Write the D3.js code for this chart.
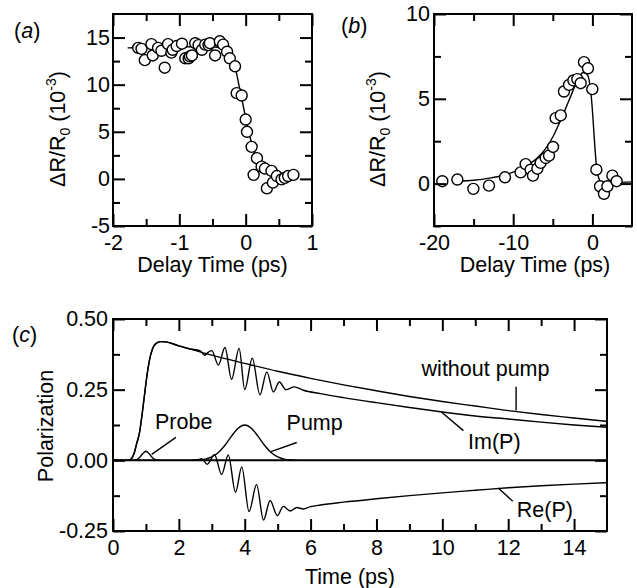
<!doctype html>
<html>
  <head>
    <meta charset="utf-8">
    <script src="https://d3js.org/d3.v7.min.js"></script>
    <style>
      body { margin: 0; background: #fff; }
      text { font-family: "Liberation Sans", Arial, sans-serif; fill: #000; }
      .axis path { stroke-width: 0; }
      .axis line { stroke: #000; stroke-width: 2; }
    </style>
  </head>
  <body>
    <script>
    // ---- panel (a) ----
    var aDotX = [-1.62, -1.57, -1.52, -1.42, -1.40, -1.32, -1.27, -1.22, -1.17, -1.12, -1.10, -1.04,
                 -0.96, -0.91, -0.86, -0.84, -0.81, -0.76, -0.71, -0.66, -0.61, -0.56, -0.54, -0.46,
                 -0.39, -0.34, -0.28, -0.24, -0.16, -0.135, -0.06, 0.0, 0.02, 0.09, 0.17, 0.12,
                 0.24, 0.29, 0.32, 0.39, 0.41, 0.47, 0.54, 0.59, 0.64, 0.72];
    var aDotY = [13.9, 13.8, 12.6, 14.3, 13.1, 13.9, 13.6, 11.8, 14.3, 13.4, 13.7, 14.1,
                 14.35, 12.8, 12.8, 13.0, 13.1, 14.4, 14.2, 13.7, 14.25, 14.2, 14.4, 13.1,
                 14.6, 14.25, 13.5, 12.8, 11.95, 9.1, 8.85, 6.3, 5.0, 3.4, 2.2, 0.43,
                 1.3, 1.1, -1.0, 0.85, -0.4, 0.3, -0.05, 0.1, 0.3, 0.43];
    var aFitX = [-1.78, -1.5, -1.0, -0.6, -0.4, -0.3, -0.2, -0.15, -0.1, -0.05, 0, 0.05, 0.1, 0.15, 0.2, 0.3, 0.4, 0.55, 0.8];
    var aFitY = [13.9, 13.95, 14.0, 14.05, 13.95, 13.6, 12.6, 11.6, 9.9, 8.2, 6.5, 4.9, 3.5, 2.5, 1.8, 0.95, 0.5, 0.25, 0.15];
    var aXMajor = [-2, -1, 0, 1];
    var aXMinor = [-1.5, -0.5, 0.5];
    var aYMajor = [-5, 0, 5, 10, 15];
    var aYMinor = [-2.5, 2.5, 7.5, 12.5];

    // ---- panel (b) ----
    var bDotX = [-18.95, -17.05, -15.03, -13.06, -11.04, -9.06, -8.43, -7.8, -7.5, -6.95, -6.53, -5.9,
                 -5.48, -4.97, -4.64, -4.0, -3.59, -2.95, -2.4, -1.9, -1.48, -1.06, -0.56, -0.01,
                 0.5, 0.96, 1.46, 1.89, 2.52, 3.06];
    var bDotY = [0.14, 0.24, -0.31, -0.12, 0.37, 0.66, 1.15, 0.82, 0.47, 0.88, 1.22, 1.51,
                 1.65, 2.16, 3.86, 4.02, 5.43, 5.82, 6.08, 6.16, 5.92, 7.16, 6.8, 5.57,
                 0.82, -0.16, -0.6, -0.16, 0.47, 0.14];
    var bFitX = [-17, -15, -13, -11, -9, -8, -7, -6, -5, -4, -3, -2, -1.2, -0.6, -0.2, 0.55, 1.0, 1.5, 3, 5];
    var bFitY = [0.15, 0.2, 0.32, 0.52, 0.88, 1.15, 1.5, 2.0, 2.75, 3.75, 4.85, 5.95, 6.55, 6.4, 5.4, 0.9, 0.1, -0.1, 0.05, 0.1];
    var bXMajor = [-20, -10, 0];
    var bXMinor = [-15, -5];
    var bYMajor = [0, 5, 10];
    var bYMinor = [-2.5, 2.5, 7.5];

    // ---- panel (c) ----
    var riseT = [0, 0.45, 0.55, 0.65, 0.72, 0.8, 0.87, 0.95, 1.02, 1.1, 1.2, 1.3, 1.45, 1.6, 2.0, 2.34];
    var riseV = [0, 0, 0.005, 0.028, 0.06, 0.095, 0.15, 0.225, 0.29, 0.35, 0.395, 0.413, 0.42, 0.419, 0.405, 0.394];
    var noPumpT = [3, 4, 5, 6, 7, 8, 9, 10, 11, 12, 13, 14, 15];
    var noPumpV = [0.372, 0.343, 0.315, 0.290, 0.267, 0.246, 0.226, 0.208, 0.192, 0.176, 0.162, 0.150, 0.138];
    var imT = [2.64, 2.79, 2.9, 3.0, 3.2, 3.4, 3.6, 3.83, 4.0, 4.23, 4.46, 4.67, 4.87, 5.05, 5.25, 5.5,
               5.78, 6.3, 7, 8, 9, 10, 11, 12, 13, 14, 15];
    var imV = [0.388, 0.372, 0.383, 0.388, 0.337, 0.399, 0.287, 0.396, 0.25, 0.361, 0.232, 0.313, 0.242, 0.277, 0.25, 0.26,
               0.248, 0.236, 0.222, 0.204, 0.187, 0.171, 0.157, 0.146, 0.135, 0.125, 0.117];
    var reT = [0, 2.4, 2.55, 2.69, 2.86, 3.08, 3.3, 3.5, 3.72, 3.91, 4.13, 4.36, 4.57, 4.77, 4.99, 5.17,
               5.38, 5.58, 5.78, 6.0, 6.3, 7, 8, 9, 10, 11, 12, 13, 14, 15];
    var reV = [0, 0, 0.001, 0.006, -0.014, 0.02, -0.05, 0.019, -0.113, -0.023, -0.181, -0.086, -0.211, -0.142, -0.196, -0.163,
               -0.179, -0.167, -0.172, -0.164, -0.158, -0.148, -0.136, -0.125, -0.115, -0.106, -0.097, -0.090, -0.084, -0.079];
    var probeT = [0.6, 0.7, 0.8, 0.9, 1.0, 1.1, 1.2, 1.3, 1.4];
    var probeV = [0, 0.0015, 0.009, 0.023, 0.032, 0.023, 0.009, 0.0015, 0];
    var pumpT = [2.4, 2.6, 2.8, 3.0, 3.2, 3.4, 3.6, 3.8, 4.0, 4.2, 4.4, 4.6, 4.8, 5.0, 5.2, 5.4, 5.6];
    var pumpV = [0, 0.0012, 0.0042, 0.0118, 0.0276, 0.0534, 0.0857, 0.1137, 0.125, 0.1137, 0.0857, 0.0534, 0.0276, 0.0118, 0.0042, 0.0012, 0];
    var cXMajor = [0, 2, 4, 6, 8, 10, 12, 14];
    var cXMinor = [1, 3, 5, 7, 9, 11, 13];
    var cYMajor = [-0.25, 0, 0.25, 0.5];
    var cYMinor = [-0.125, 0.125, 0.375];

    // labels with leader lines, in data units: [text, textT, textV, t1, v1, t2, v2]
    var cNotes = [
      ['Probe', 1.276, 0.111, 1.175, 0.021, 1.91, 0.081],
      ['Pump', 5.27, 0.107, 4.80, 0.031, 5.58, 0.063],
      ['without pump', 9.37, 0.30, 12.24, 0.176, 12.24, 0.26],
      ['Im(P)', 10.78, 0.039, 9.98, 0.170, 10.64, 0.105],
      ['Re(P)', 12.26, -0.199, 11.7, -0.0975, 12.14, -0.145]
    ];

    function zip(xs, ys) {
      return xs.map(function(d, i) { return [d, ys[i]]; });
    }

    var svg = d3.select('body')
              .append('svg')
              .attr('width', 637)
              .attr('height', 588);

    var FS = '21.5px';

    // frame with inward ticks on all four sides
    function drawFrame(x, y, xMajor, xMinor, yMajor, yMinor, xFmt, yFmt, lPad, bPad) {
      var x0 = x.range()[0], x1 = x.range()[1];
      var y0 = y.range()[0], y1 = y.range()[1];
      var g = svg.append('g');

      g.append('g').attr('class', 'axis')
        .attr('transform', 'translate(0,' + y0 + ')')
        .call(d3.axisBottom(x).tickValues(xMajor).tickSize(-12).tickPadding(bPad).tickFormat(xFmt))
        .selectAll('text').style('font-size', FS).attr('font-family', null);
      g.append('g').attr('class', 'axis')
        .attr('transform', 'translate(0,' + y0 + ')')
        .call(d3.axisBottom(x).tickValues(xMinor).tickSize(-7).tickFormat(''));
      g.append('g').attr('class', 'axis')
        .attr('transform', 'translate(0,' + y1 + ')')
        .call(d3.axisTop(x).tickValues(xMajor).tickSize(-12).tickFormat(''));
      g.append('g').attr('class', 'axis')
        .attr('transform', 'translate(0,' + y1 + ')')
        .call(d3.axisTop(x).tickValues(xMinor).tickSize(-7).tickFormat(''));

      g.append('g').attr('class', 'axis')
        .attr('transform', 'translate(' + x0 + ',0)')
        .call(d3.axisLeft(y).tickValues(yMajor).tickSize(-12).tickPadding(lPad).tickFormat(yFmt))
        .selectAll('text').style('font-size', FS).attr('font-family', null);
      g.append('g').attr('class', 'axis')
        .attr('transform', 'translate(' + x0 + ',0)')
        .call(d3.axisLeft(y).tickValues(yMinor).tickSize(-7).tickFormat(''));
      g.append('g').attr('class', 'axis')
        .attr('transform', 'translate(' + x1 + ',0)')
        .call(d3.axisRight(y).tickValues(yMajor).tickSize(-12).tickFormat(''));
      g.append('g').attr('class', 'axis')
        .attr('transform', 'translate(' + x1 + ',0)')
        .call(d3.axisRight(y).tickValues(yMinor).tickSize(-7).tickFormat(''));

      g.append('rect')
        .attr('x', x0).attr('y', y1)
        .attr('width', x1 - x0).attr('height', y0 - y1)
        .attr('fill', 'none').attr('stroke', '#000').attr('stroke-width', 2);
    }

    function plain(d) { return String(d); }

    function panelLabel(px, py, letter) {
      var t = svg.append('text').attr('x', px).attr('y', py).style('font-size', FS);
      t.append('tspan').text('(');
      t.append('tspan').attr('font-style', 'italic').text(letter);
      t.append('tspan').text(')');
    }

    function drLabel(px, py) {
      var t = svg.append('text')
        .attr('transform', 'translate(' + px + ',' + py + ') rotate(-90)')
        .attr('text-anchor', 'middle')
        .style('font-size', FS);
      t.append('tspan').text('\u0394R/R');
      t.append('tspan').attr('dy', 5).style('font-size', '14px').text('0');
      t.append('tspan').attr('dy', -5).text(' (10');
      t.append('tspan').attr('dy', -9).style('font-size', '14px').text('-3');
      t.append('tspan').attr('dy', 9).text(')');
    }

    function scatterPanel(x, y, fitX, fitY, dotX, dotY) {
      var line = d3.line()
        .x(function(d) { return x(d[0]); })
        .y(function(d) { return y(d[1]); })
        .curve(d3.curveMonotoneX);
      svg.append('path')
        .datum(zip(fitX, fitY))
        .attr('fill', 'none').attr('stroke', '#000').attr('stroke-width', 1.4)
        .attr('d', line);
      svg.append('g').selectAll('circle')
        .data(zip(dotX, dotY))
        .enter()
        .append('circle')
        .attr('cx', function(d) { return x(d[0]); })
        .attr('cy', function(d) { return y(d[1]); })
        .attr('r', 5.5)
        .attr('fill', '#fff').attr('stroke', '#000').attr('stroke-width', 1.4);
    }

    // ---- (a) ----
    var xa = d3.scaleLinear().domain([-2, 1]).range([113, 312]);
    var ya = d3.scaleLinear().domain([-5, 17.5]).range([226, 14]);
    scatterPanel(xa, ya, aFitX, aFitY, aDotX, aDotY);
    drawFrame(xa, ya, aXMajor, aXMinor, aYMajor, aYMinor, plain, plain, 3, 9);
    panelLabel(14, 38, 'a');
    drLabel(65, 129);
    svg.append('text')
      .attr('x', 212.5).attr('y', 272)
      .attr('text-anchor', 'middle').style('font-size', FS)
      .text('Delay Time (ps)');

    // ---- (b) ----
    var xb = d3.scaleLinear().domain([-20, 5]).range([434, 632]);
    var yb = d3.scaleLinear().domain([-2.5, 10]).range([226, 14]);
    scatterPanel(xb, yb, bFitX, bFitY, bDotX, bDotY);
    drawFrame(xb, yb, bXMajor, bXMinor, bYMajor, bYMinor, plain, plain, 4, 9);
    panelLabel(341, 33, 'b');
    drLabel(385, 129);
    svg.append('text')
      .attr('x', 535).attr('y', 272)
      .attr('text-anchor', 'middle').style('font-size', FS)
      .text('Delay Time (ps)');

    // ---- (c) ----
    var xc = d3.scaleLinear().domain([0, 15]).range([113, 607]);
    var yc = d3.scaleLinear().domain([-0.25, 0.5]).range([531, 319]);
    var lineC = d3.line()
      .x(function(d) { return xc(d[0]); })
      .y(function(d) { return yc(d[1]); })
      .curve(d3.curveMonotoneX);

    svg.append('line')
      .attr('x1', xc(0)).attr('x2', xc(15))
      .attr('y1', yc(0)).attr('y2', yc(0))
      .attr('stroke', '#000').attr('stroke-width', 2);

    var curves = [
      zip(riseT.concat(noPumpT), riseV.concat(noPumpV)),
      zip(riseT.concat(imT), riseV.concat(imV)),
      zip(reT, reV),
      zip(probeT, probeV),
      zip(pumpT, pumpV)
    ];
    svg.append('g').selectAll('path')
      .data(curves)
      .enter()
      .append('path')
      .attr('fill', 'none').attr('stroke', '#000').attr('stroke-width', 1.4)
      .attr('d', lineC);

    var notes = svg.append('g').selectAll('g')
      .data(cNotes)
      .enter()
      .append('g');
    notes.append('line')
      .attr('x1', function(d) { return xc(d[3]); })
      .attr('y1', function(d) { return yc(d[4]); })
      .attr('x2', function(d) { return xc(d[5]); })
      .attr('y2', function(d) { return yc(d[6]); })
      .attr('stroke', '#000').attr('stroke-width', 1.4);
    notes.append('text')
      .attr('x', function(d) { return xc(d[1]); })
      .attr('y', function(d) { return yc(d[2]); })
      .style('font-size', FS)
      .text(function(d) { return d[0]; });

    drawFrame(xc, yc, cXMajor, cXMinor, cYMajor, cYMinor, plain, function(d) { return d.toFixed(2); }, 5, 9);
    panelLabel(12, 342, 'c');

    svg.append('text')
      .attr('transform', 'translate(53,426) rotate(-90)')
      .attr('text-anchor', 'middle').style('font-size', FS)
      .text('Polarization');
    svg.append('text')
      .attr('x', 350).attr('y', 584)
      .attr('text-anchor', 'middle').style('font-size', FS)
      .text('Time (ps)');
    </script>
  </body>
</html>
